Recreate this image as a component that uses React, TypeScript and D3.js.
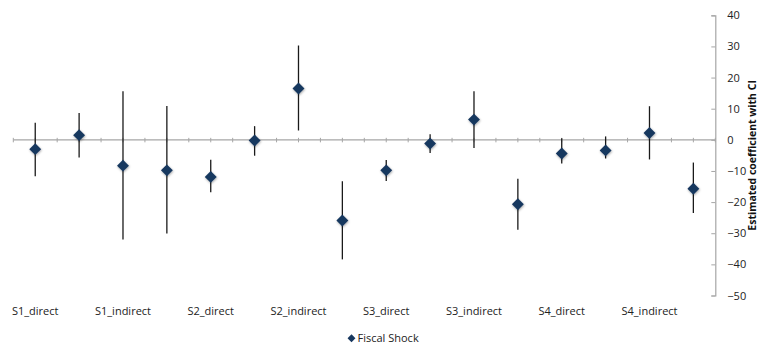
import { useEffect, useRef } from "react";
import * as d3 from "d3";

// category labels (Excel only prints every other one)
const categories = [
  "S1_direct", "", "S1_indirect", "", "S2_direct", "", "S2_indirect", "",
  "S3_direct", "", "S3_indirect", "", "S4_direct", "", "S4_indirect", "",
];
const estimates = [-3.0, 1.5, -8.3, -9.8, -11.9, -0.2, 16.5, -25.9, -9.8, -1.2, 6.5, -20.7, -4.4, -3.4, 2.2, -15.7];
const ciUpper = [5.5, 8.6, 15.6, 10.9, -6.4, 4.4, 30.3, -13.3, -6.5, 1.8, 15.6, -12.5, 0.5, 1.1, 10.8, -7.3];
const ciLower = [-11.7, -5.7, -32.0, -30.1, -16.8, -5.1, 3.0, -38.4, -13.2, -4.2, -2.6, -28.9, -7.6, -6.0, -6.3, -23.5];
const yTicks = [40, 30, 20, 10, 0, -10, -20, -30, -40, -50];
const seriesName = "Fiscal Shock";

const W = 760;
const H = 349;
const FONT = "'Open Sans', 'DejaVu Sans', sans-serif";

export default function App() {
  const ref = useRef<SVGSVGElement>(null);

  useEffect(() => {
    const svg = d3.select(ref.current);
    svg.selectAll("*").remove();

    const left = 13.3;
    const right = 715.3;

    const x = d3.scaleBand<number>()
      .domain(d3.range(categories.length))
      .range([left, right])
      .padding(0);
    const y = d3.scaleLinear().domain([-50, 40]).range([295.5, 15.3]);

    const defs = svg.append("defs");
    const f = defs.append("filter").attr("id", "shadow").attr("x", "-50%").attr("y", "-50%").attr("width", "200%").attr("height", "200%");
    f.append("feDropShadow").attr("dx", 0.5).attr("dy", 1).attr("stdDeviation", 1).attr("flood-color", "#000").attr("flood-opacity", 0.35);

    // y axis on the right
    const yAxis = svg.append("g")
      .attr("transform", `translate(${right},0)`)
      .call(d3.axisRight(y).tickValues(yTicks).tickSize(-4).tickPadding(12).tickFormat(d3.format("d")));
    yAxis.select(".domain").attr("stroke", "#a6a6a6").attr("stroke-width", 1.2);
    yAxis.selectAll(".tick line").attr("stroke", "#a6a6a6");
    yAxis.selectAll(".tick text")
      .attr("fill", "#222")
      .style("font-family", FONT)
      .style("font-size", "11px");

    // category axis at zero, ticks every half category
    const y0 = y(0);
    const half = x.bandwidth() / 2;
    const tickXs = d3.range(categories.length * 2 + 1).map(i => left + i * half);
    const xg = svg.append("g");
    xg.append("line")
      .attr("x1", left).attr("x2", right)
      .attr("y1", y0).attr("y2", y0)
      .attr("stroke", "#a6a6a6").attr("stroke-width", 1.2);
    xg.selectAll("line.tk")
      .data(tickXs)
      .enter().append("line")
      .attr("class", "tk")
      .attr("x1", d => d).attr("x2", d => d)
      .attr("y1", y0 - 2).attr("y2", y0 + 2.5)
      .attr("stroke", "#a6a6a6");

    // category labels at the bottom
    svg.append("g")
      .selectAll("text")
      .data(categories.map((c, i) => ({ c, i })).filter(d => d.c !== ""))
      .enter().append("text")
      .attr("x", d => x(d.i)! + half)
      .attr("y", 315)
      .attr("text-anchor", "middle")
      .attr("fill", "#222")
      .style("font-family", FONT)
      .style("font-size", "11px")
      .text(d => d.c);

    // error bars
    svg.append("g")
      .selectAll("line")
      .data(estimates.map((_, i) => i))
      .enter().append("line")
      .attr("x1", i => x(i)! + half).attr("x2", i => x(i)! + half)
      .attr("y1", i => y(ciUpper[i])).attr("y2", i => y(ciLower[i]))
      .attr("stroke", "#1a1a1a").attr("stroke-width", 1.3);

    // diamonds
    const diamond = d3.symbol().type(d3.symbolDiamond2).size(90);
    svg.append("g")
      .selectAll("path")
      .data(estimates)
      .enter().append("path")
      .attr("d", diamond)
      .attr("transform", (d, i) => `translate(${x(i)! + half},${y(d)})`)
      .attr("fill", "#17375e")
      .attr("filter", "url(#shadow)");

    // axis title
    svg.append("text")
      .attr("transform", `translate(756,${(y(40) + y(-50)) / 2}) rotate(-90)`)
      .attr("text-anchor", "middle")
      .attr("fill", "#111")
      .style("font-family", FONT)
      .style("font-size", "10.5px")
      .style("font-weight", "bold")
      .text("Estimated coefficient with CI");

    // legend
    const lg = svg.append("g").attr("transform", "translate(351.5,338.3)");
    lg.append("path").attr("d", d3.symbol().type(d3.symbolDiamond2).size(40)).attr("fill", "#17375e");
    lg.append("text")
      .attr("x", 6)
      .attr("y", 3.8)
      .attr("fill", "#222")
      .style("font-family", FONT)
      .style("font-size", "11px")
      .text(seriesName);
  }, []);

  return (
    <svg
      ref={ref}
      width={W}
      height={H}
      style={{ position: "absolute", left: 0, top: 0, background: "#fff" }}
    />
  );
}
